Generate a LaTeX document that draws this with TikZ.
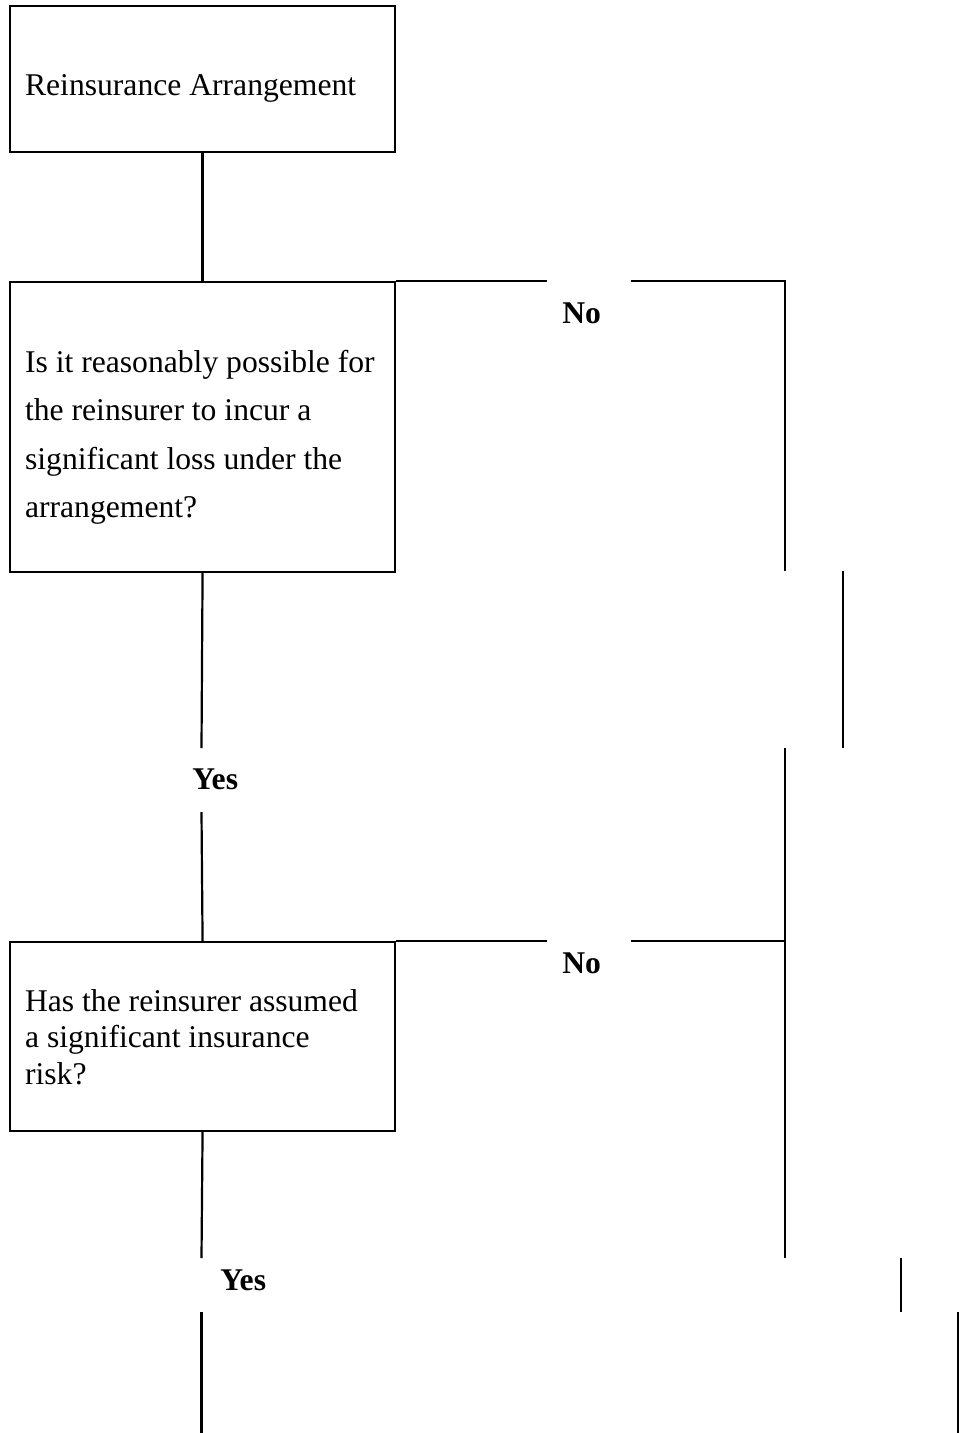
\documentclass[tikz,border=0pt]{standalone}
\usepackage{fontspec}
\setmainfont{Liberation Serif}
\begin{document}
\begin{tikzpicture}[
        x=0.02cm, y=-0.02cm,
        caixa/.style={shape=rectangle, draw=black, line width=1.25pt, anchor=north west,
            minimum width=7.7cm, text width=7.1cm, inner xsep=0.3cm, inner ysep=0pt,
            execute at begin node={\raggedright\spaceskip=0pt\xspaceskip=0pt}},
        rotulo/.style={anchor=base west, inner sep=0pt, font=\fontsize{18pt}{21pt}\selectfont\bfseries},
        aresta/.style={line width=1.25pt},
    ]
    \useasboundingbox (0,0) rectangle (965,1433);

    \node[caixa, text height=1.78cm, text depth=1.14cm, font=\fontsize{18pt}{21pt}\selectfont]
        (arr) at (9,5) {Reinsurance Arrangement};
    \node[caixa, text height=1.8cm, text depth=4.0cm, font=\fontsize{18pt}{27.6pt}\selectfont]
        (q1) at (9,281) {Is it reasonably possible for\\the reinsurer to incur a\\significant loss under the\\arrangement?};
    \node[caixa, text height=1.38cm, text depth=2.4cm, font=\fontsize{18pt}{21pt}\selectfont]
        (q2) at (9,941) {Has the reinsurer assumed\\a significant insurance\\risk?};

    \node[rotulo] (no1) at (562,323) {No};
    \node[rotulo] (no2) at (562,973) {No};
    \node[rotulo] (yes1) at (192,789) {Yes};
    \node[rotulo] (yes2) at (220,1290) {Yes};

    \coordinate (n1a) at (547,281);
    \coordinate (n1b) at (631,281);
    \coordinate (n1c) at (785,281);
    \coordinate (n1d) at (785,571);
    \coordinate (r1a) at (843,571);
    \coordinate (r1b) at (843,748);
    \coordinate (r2a) at (785,748);
    \coordinate (r2b) at (785,1258);
    \coordinate (n2a) at (547,941);
    \coordinate (n2b) at (631,941);
    \coordinate (n2c) at (785,941);
    \coordinate (r3a) at (901,1258);
    \coordinate (r3b) at (901,1312);
    \coordinate (r4a) at (958,1312);
    \coordinate (r4b) at (958,1433);
    \coordinate (y1a) at (201.5,748);
    \coordinate (y1b) at (201.5,812);
    \coordinate (y2a) at (201.5,1258);
    \coordinate (y2b) at (201.5,1312);
    \coordinate (fim) at (201.5,1433);

    \draw[aresta] (arr) -- (q1);
    \draw[aresta] (q1.north east) -- (n1a);
    \draw[aresta] (n1b) -- (n1c) -- (n1d);
    \draw[aresta] (r1a) -- (r1b);
    \draw[aresta] (r2a) -- (r2b);
    \draw[aresta] (q1.south) -- (y1a);
    \draw[aresta] (y1b) -- (q2.north);
    \draw[aresta] (q2.north east) -- (n2a);
    \draw[aresta] (n2b) -- (n2c);
    \draw[aresta] (q2.south) -- (y2a);
    \draw[aresta] (y2b) -- (fim);
    \draw[aresta] (r3a) -- (r3b);
    \draw[aresta] (r4a) -- (r4b);

\end{tikzpicture}
\end{document}
